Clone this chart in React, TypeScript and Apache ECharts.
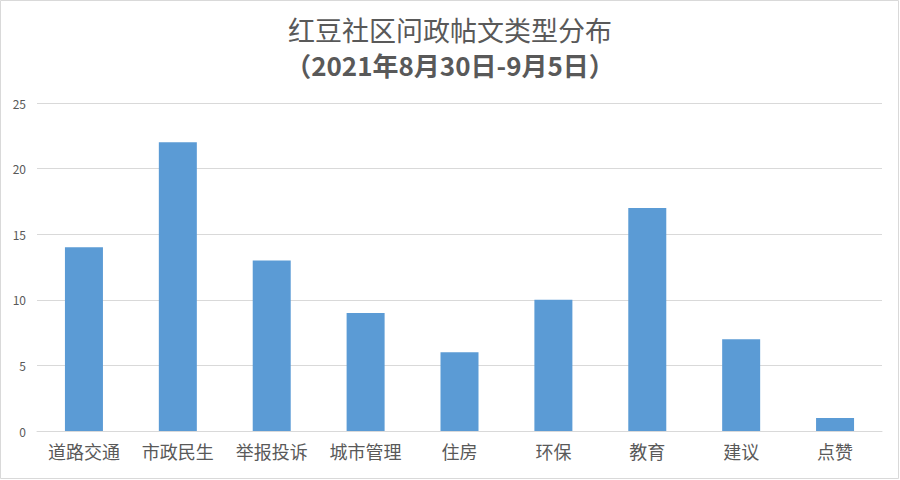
import React, { useEffect, useRef } from "react";
import * as echarts from "echarts";

const titleLine1 = "红豆社区问政帖文类型分布";
const titleLine2 = "（2021年8月30日-9月5日）";
const categories = ["道路交通", "市政民生", "举报投诉", "城市管理", "住房", "环保", "教育", "建议", "点赞"];
const counts = [14, 22, 13, 9, 6, 10, 17, 7, 1];
const yMin = 0;
const yMax = 25;
const yStep = 5;

export default function App() {
  const ref = useRef<HTMLDivElement>(null);
  useEffect(() => {
    document.body.style.margin = "0";
    const chart = echarts.init(ref.current!, null, { renderer: "svg" });
    const font = "'Noto Sans CJK SC', 'Noto Sans', sans-serif";
    chart.setOption({
      animation: false,
      backgroundColor: "#ffffff",
      textStyle: { fontFamily: font },
      title: [
        {
          text: titleLine1,
          left: "center",
          top: 15,
          padding: 0,
          textStyle: { fontSize: 27, fontWeight: "normal", color: "#595959", fontFamily: font, lineHeight: 28 },
        },
        {
          text: titleLine2,
          left: "center",
          top: 51,
          padding: 0,
          textStyle: { fontSize: 26, fontWeight: "bold", color: "#595959", fontFamily: font, lineHeight: 27 },
        },
      ],
      graphic: [
        {
          type: "rect",
          shape: { x: 0.5, y: 0.5, width: 898, height: 478 },
          style: { fill: "none", stroke: "#d9d9d9", lineWidth: 1 },
          silent: true,
        },
      ],
      grid: { left: 37, right: 18, top: 103, bottom: 49, containLabel: false },
      xAxis: {
        type: "category",
        data: categories,
        axisTick: { show: false },
        axisLine: { lineStyle: { color: "#d9d9d9", width: 1 } },
        axisLabel: { color: "#595959", fontSize: 18, margin: 11, fontFamily: font, interval: 0 },
      },
      yAxis: {
        type: "value",
        min: yMin,
        max: yMax,
        interval: yStep,
        axisLine: { show: false },
        axisTick: { show: false },
        splitLine: { lineStyle: { color: "#d9d9d9", width: 1 } },
        axisLabel: { color: "#595959", fontSize: 12, margin: 11, fontFamily: font },
      },
      series: [
        {
          type: "bar",
          data: counts,
          barWidth: 38,
          itemStyle: { color: "#5b9bd5" },
        },
      ],
    });
    return () => chart.dispose();
  }, []);
  return <div ref={ref} style={{ width: 900, height: 480 }} />;
}
